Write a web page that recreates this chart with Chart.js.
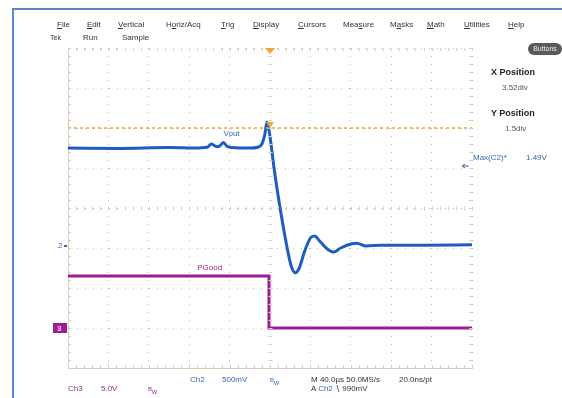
<!DOCTYPE html>
<html>
<head>
<meta charset="utf-8">
<script src="https://cdn.jsdelivr.net/npm/chart.js@4.4.1/dist/chart.umd.min.js"></script>
<style>
	html, body { margin: 0; padding: 0; background: #fff; }
	#wrap { position: relative; width: 562px; height: 398px; overflow: hidden;
		font-family: "Liberation Sans", Arial, sans-serif; font-size: 8px; color: #333; }
	#frame { position: absolute; left: 12px; top: 8px; width: 560px; height: 400px;
		border-left: 2px solid #5b86c9; border-top: 2px solid #5b86c9; }
	canvas { position: absolute; left: 0; top: 0; }
	.t { position: absolute; white-space: nowrap; line-height: 10px; }
	.blue { color: #3566b8; }
	.purple { color: #9a2a96; }
	.menu { color: #333; font-size: 8px; }
	.bold { font-weight: bold; font-size: 9px; color: #222; }
	#buttons { position: absolute; left: 528px; top: 43px; width: 34px; height: 12px;
		border-radius: 6px; background: #5a5a5a; color: #eee; font-size: 7px;
		line-height: 12px; text-align: center; }
</style>
</head>
<body>
<div id="wrap">
	<div id="frame"></div>
	<canvas id="scope" width="562" height="398"></canvas>

	<div class="t menu" style="left:57px;top:20px"><u>F</u>ile</div>
	<div class="t menu" style="left:87px;top:20px"><u>E</u>dit</div>
	<div class="t menu" style="left:118px;top:20px"><u>V</u>ertical</div>
	<div class="t menu" style="left:166px;top:20px">H<u>o</u>riz/Acq</div>
	<div class="t menu" style="left:221px;top:20px"><u>T</u>rig</div>
	<div class="t menu" style="left:253px;top:20px"><u>D</u>isplay</div>
	<div class="t menu" style="left:298px;top:20px"><u>C</u>ursors</div>
	<div class="t menu" style="left:343px;top:20px">Mea<u>s</u>ure</div>
	<div class="t menu" style="left:390px;top:20px">M<u>a</u>sks</div>
	<div class="t menu" style="left:427px;top:20px"><u>M</u>ath</div>
	<div class="t menu" style="left:464px;top:20px"><u>U</u>tilities</div>
	<div class="t menu" style="left:508px;top:20px"><u>H</u>elp</div>

	<div class="t menu" style="left:50px;top:33px;font-size:7px">Tek</div>
	<div class="t menu" style="left:83px;top:33px">Run</div>
	<div class="t menu" style="left:122px;top:33px">Sample</div>

	<div id="buttons">Buttons</div>
	<div class="t bold" style="left:491px;top:67px">X Position</div>
	<div class="t" style="left:502px;top:83px;color:#555">3.52div</div>
	<div class="t bold" style="left:491px;top:108px">Y Position</div>
	<div class="t" style="left:505px;top:124px;color:#555">1.5div</div>
	<div class="t blue" style="left:473px;top:153px">Max(C2)*</div>
	<div class="t blue" style="left:526px;top:153px">1.49V</div>

	<div class="t blue" style="left:190px;top:375px">Ch2</div>
	<div class="t blue" style="left:222px;top:375px">500mV</div>
	<div class="t blue" style="left:270px;top:375px;font-size:7px"><sup style="font-size:6px">B</sup>w</div>
	<div class="t" style="left:311px;top:375px">M 40.0µs 50.0MS/s</div>
	<div class="t" style="left:399px;top:375px">20.0ns/pt</div>
	<div class="t purple" style="left:68px;top:384px">Ch3</div>
	<div class="t purple" style="left:101px;top:384px">5.0V</div>
	<div class="t purple" style="left:148px;top:384px;font-size:7px"><sup style="font-size:6px">B</sup>w</div>
	<div class="t" style="left:311px;top:384px">A <span class="blue">Ch2</span> &#8726; 990mV</div>
</div>

<script>
// time axis in µs (40 µs/div, trigger at centre), voltages in divisions
const xTicks = [-200, -160, -120, -80, -40, 0, 40, 80, 120, 160, 200];
const yTicks = [-4, -3, -2, -1, 0, 1, 2, 3, 4];

const voutTime = [-200, -150, -100, -75, -62, -58, -55, -52, -49, -46, -43, -38, -30, -20, -12, -8, -5, -3, -1, 1,
	4, 10, 17, 21, 25, 29, 34, 40, 44, 50, 57, 63, 70, 80, 86, 95, 110, 150, 200];
const vout = [1.5, 1.49, 1.51, 1.5, 1.52, 1.6, 1.56, 1.53, 1.57, 1.64, 1.55, 1.51, 1.5, 1.5, 1.52, 1.6, 1.85, 2.15, 1.95, 1.6,
	1.0, 0.0, -1.0, -1.45, -1.62, -1.5, -1.1, -0.75, -0.7, -0.85, -1.03, -1.1, -1.0, -0.9, -0.88, -0.95, -0.93, -0.93, -0.92];

const pgoodTime = [-200, -1, -1, 200];
const pgood = [-1.7, -1.7, -3.0, -3.0];

const trigLevel = 2.0;
const trigTime = 0;
const ch2Ground = -0.95;
const ch3Ground = -3.0;

const voutLabel = { x: -46, y: 1.85, text: "Vout" };
const pgoodLabel = { x: -72, y: -1.5, text: "PGood" };

const BLUE = "#1f5cc2";
const PURPLE = "#9c1c98";
const ORANGE = "#f4a236";
const GRAT = "#d6cfbb";

function zip(xs, ys) {
	return xs.map((x, i) => ({ x: x, y: ys[i] }));
}

const scopeDecor = {
	id: "scopeDecor",
	afterDatasetsDraw(chart) {
		const ctx = chart.ctx;
		const xs = chart.scales.x;
		const ys = chart.scales.y;
		const a = chart.chartArea;
		ctx.save();
		ctx.strokeStyle = GRAT;
		ctx.lineWidth = 1;
		// minor ticks on the border and on the centre cross
		ctx.beginPath();
		for (let v = xTicks[0]; v <= xTicks[xTicks.length - 1]; v += 8) {
			const px = Math.round(xs.getPixelForValue(v)) + 0.5;
			const cy = Math.round(ys.getPixelForValue(0)) + 0.5;
			ctx.moveTo(px, a.top); ctx.lineTo(px, a.top + 3);
			ctx.moveTo(px, a.bottom); ctx.lineTo(px, a.bottom - 3);
			ctx.moveTo(px, cy - 2); ctx.lineTo(px, cy + 2);
		}
		for (let v = yTicks[0]; v <= yTicks[yTicks.length - 1] + 0.01; v += 0.2) {
			const py = Math.round(ys.getPixelForValue(v)) + 0.5;
			const cx = Math.round(xs.getPixelForValue(0)) + 0.5;
			ctx.moveTo(a.left, py); ctx.lineTo(a.left + 3, py);
			ctx.moveTo(a.right, py); ctx.lineTo(a.right - 3, py);
			ctx.moveTo(cx - 2, py); ctx.lineTo(cx + 2, py);
		}
		ctx.stroke();

		// trigger position marker at the top
		const tx = xs.getPixelForValue(trigTime);
		ctx.fillStyle = ORANGE;
		ctx.beginPath();
		ctx.moveTo(tx - 5, a.top); ctx.lineTo(tx + 5, a.top); ctx.lineTo(tx, a.top + 6);
		ctx.closePath(); ctx.fill();
		// trigger point marker
		const tly = ys.getPixelForValue(trigLevel);
		ctx.beginPath();
		ctx.moveTo(tx - 4, tly - 6); ctx.lineTo(tx + 4, tly - 6); ctx.lineTo(tx, tly);
		ctx.closePath(); ctx.fill();

		// channel ground markers
		ctx.font = "8px 'Liberation Sans', Arial, sans-serif";
		ctx.textBaseline = "middle";
		const g2 = ys.getPixelForValue(ch2Ground);
		ctx.fillStyle = "#3566b8";
		ctx.fillText("2", a.left - 10, g2);
		ctx.fillRect(a.left - 4, g2 - 1, 3, 2);
		const g3 = ys.getPixelForValue(ch3Ground);
		ctx.fillStyle = PURPLE;
		ctx.fillRect(a.left - 15, g3 - 5, 14, 10);
		ctx.fillStyle = "#f2d8f0";
		ctx.font = "bold 8px 'Liberation Sans', Arial, sans-serif";
		ctx.fillText("3", a.left - 11, g3 + 0.5);

		// Max(C2) arrow on the right
		const my = ys.getPixelForValue(1.05);
		ctx.strokeStyle = "#3566b8";
		ctx.beginPath();
		ctx.moveTo(a.right - 10, my); ctx.lineTo(a.right - 3, my);
		ctx.moveTo(a.right - 10, my); ctx.lineTo(a.right - 7, my - 2);
		ctx.moveTo(a.right - 10, my); ctx.lineTo(a.right - 7, my + 2);
		ctx.stroke();

		// trace labels
		ctx.font = "8px 'Liberation Sans', Arial, sans-serif";
		ctx.fillStyle = "#3566b8";
		ctx.fillText(voutLabel.text, xs.getPixelForValue(voutLabel.x), ys.getPixelForValue(voutLabel.y));
		ctx.fillStyle = PURPLE;
		ctx.fillText(pgoodLabel.text, xs.getPixelForValue(pgoodLabel.x), ys.getPixelForValue(pgoodLabel.y));
		ctx.restore();
	}
};

new Chart(document.getElementById("scope"), {
	type: "line",
	data: {
		datasets: [
			{
				label: "Trigger level",
				data: zip([xTicks[0], xTicks[xTicks.length - 1]], [trigLevel, trigLevel]),
				borderColor: ORANGE,
				borderWidth: 1.5,
				borderDash: [3, 3],
				pointRadius: 0
			},
			{
				label: "PGood",
				data: zip(pgoodTime, pgood),
				borderColor: PURPLE,
				borderWidth: 3,
				pointRadius: 0
			},
			{
				label: "Vout",
				data: zip(voutTime, vout),
				borderColor: BLUE,
				borderWidth: 3,
				pointRadius: 0,
				cubicInterpolationMode: "monotone"
			}
		]
	},
	options: {
		responsive: false,
		animation: false,
		events: [],
		layout: { padding: { left: 68, top: 48, right: 90, bottom: 30 } },
		plugins: { legend: { display: false }, tooltip: { enabled: false } },
		scales: {
			x: {
				type: "linear",
				min: xTicks[0],
				max: xTicks[xTicks.length - 1],
				afterBuildTicks: (s) => { s.ticks = xTicks.map(v => ({ value: v })); },
				ticks: { display: false },
				grid: { color: "#b8b8b8", drawTicks: false, lineWidth: 1 },
				border: { display: true, color: GRAT, width: 1, dash: [1, 7] }
			},
			y: {
				type: "linear",
				min: yTicks[0],
				max: yTicks[yTicks.length - 1],
				afterBuildTicks: (s) => { s.ticks = yTicks.map(v => ({ value: v })); },
				ticks: { display: false },
				grid: { color: "#b8b8b8", drawTicks: false, lineWidth: 1 },
				border: { display: true, color: GRAT, width: 1, dash: [1, 7] }
			}
		}
	},
	plugins: [scopeDecor]
});
</script>
</body>
</html>
